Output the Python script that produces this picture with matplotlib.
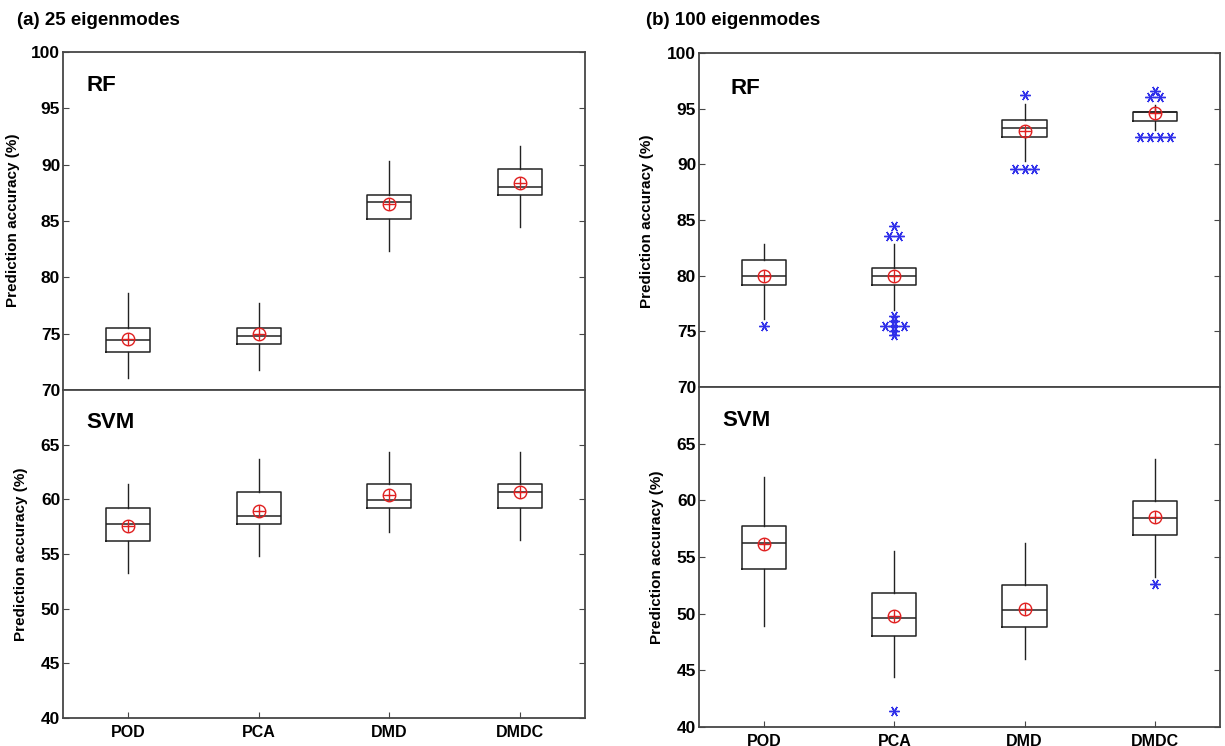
import numpy as np
import matplotlib
matplotlib.use("Agg")
from matplotlib import pyplot as plt

methods = ["POD", "PCA", "DMD", "DMDC"]

# (a) 25 eigenmodes, RF
a_rf_whislo = [71.1, 71.8, 82.3, 84.5]
a_rf_q1 = [73.35, 74.1, 85.15, 87.35]
a_rf_med = [74.45, 74.8, 86.65, 88.05]
a_rf_q3 = [75.5, 75.5, 87.3, 89.6]
a_rf_whishi = [78.6, 77.75, 90.3, 91.7]
a_rf_mean = [74.5, 75.0, 86.5, 88.4]
a_rf_fliers = [[], [], [], []]

# (a) 25 eigenmodes, SVM
a_svm_whislo = [53.3, 54.8, 57.0, 56.25]
a_svm_q1 = [56.2, 57.75, 59.2, 59.2]
a_svm_med = [57.75, 58.45, 59.95, 60.65]
a_svm_q3 = [59.2, 60.65, 61.4, 61.4]
a_svm_whishi = [61.4, 63.65, 64.3, 64.3]
a_svm_mean = [57.55, 58.9, 60.4, 60.7]
a_svm_fliers = [[], [], [], []]

# (b) 100 eigenmodes, RF
b_rf_whislo = [76.15, 76.95, 90.3, 93.1]
b_rf_q1 = [79.2, 79.2, 92.5, 93.9]
b_rf_med = [79.95, 79.95, 93.25, 94.7]
b_rf_q3 = [81.4, 80.65, 93.95, 94.7]
b_rf_whishi = [82.85, 82.85, 95.4, 95.3]
b_rf_mean = [79.95, 80.0, 93.0, 94.6]
b_rf_fliers = [[75.5],
               [84.5, 83.6, 83.6, 76.4, 75.9, 75.5, 75.5, 75.5, 75.0, 74.7],
               [96.25, 89.55, 89.55, 89.55],
               [96.6, 96.05, 96.05, 92.45, 92.45, 92.45, 92.45]]

# (b) 100 eigenmodes, SVM
b_svm_whislo = [48.9, 44.4, 46.0, 53.25]
b_svm_q1 = [53.95, 48.05, 48.8, 56.95]
b_svm_med = [56.25, 49.65, 50.3, 58.45]
b_svm_q3 = [57.75, 51.85, 52.55, 59.95]
b_svm_whishi = [62.05, 55.5, 56.2, 63.6]
b_svm_mean = [56.1, 49.8, 50.45, 58.55]
b_svm_fliers = [[], [41.4], [], [52.6]]

narrow = ["Liberation Sans Narrow", "Liberation Sans", "DejaVu Sans"]
plt.rcParams["font.family"] = ["Liberation Sans", "DejaVu Sans"]
spine_col = "#474747"


def draw_panel(ax, whislo, q1, med, q3, whishi, mean, fliers, label, ylim, yticks, bottom):
    stats = []
    for i in range(len(methods)):
        stats.append(dict(whislo=whislo[i], q1=q1[i], med=med[i], q3=q3[i],
                          whishi=whishi[i], fliers=[], label=methods[i]))
    pos = np.arange(1, len(methods) + 1)
    ax.bxp(stats, positions=pos, widths=0.34, showcaps=False, showfliers=False,
           boxprops=dict(color="#222222", linewidth=1.1),
           whiskerprops=dict(color="#222222", linewidth=1.0),
           medianprops=dict(color="#222222", linewidth=1.1))
    ax.plot(pos, mean, "o", ms=9, mfc="none", mec="#e02020", mew=1.0, zorder=5)
    ax.plot(pos, mean, "+", ms=9, color="#e02020", mew=1.0, zorder=5)
    # outliers, equal values spread sideways
    for p, vals in zip(pos, fliers):
        uniq, counts = np.unique(vals, return_counts=True)
        for v, c in zip(uniq, counts):
            offs = (np.arange(c) - (c - 1) / 2.0) * 0.075
            ax.plot(p + offs, [v] * c, linestyle="none", marker=(6, 2, 30),
                    ms=7.5, color="#3030ea", mew=1.0, zorder=4)
    ax.set_xlim(0.5, 4.5)
    ax.set_ylim(*ylim)
    ax.set_yticks(yticks)
    ax.set_yticklabels([str(t) for t in yticks], family=narrow,
                       fontweight="bold", fontsize=12.5)
    ax.tick_params(axis="y", direction="in", left=True, right=True, length=4,
                   pad=2, color=spine_col)
    if bottom:
        ax.set_xticks(pos)
        ax.set_xticklabels(methods, fontweight="bold", fontsize=11.5)
        ax.tick_params(axis="x", direction="in", length=4, pad=5, color=spine_col)
    else:
        ax.set_xticks([])
    for s in ax.spines.values():
        s.set_color(spine_col)
        s.set_linewidth(1.3)
    ax.set_ylabel("Prediction accuracy (%)", fontweight="bold", fontsize=11)
    ax.text(0.045, 0.9, label, transform=ax.transAxes, fontweight="bold",
            fontsize=16, va="center", ha="left")


fig = plt.figure(figsize=(12.25, 7.46), dpi=100)

ax1 = fig.add_axes([0.0514, 0.4772, 0.4261, 0.4531])
ax2 = fig.add_axes([0.0514, 0.0375, 0.4261, 0.4397])
ax3 = fig.add_axes([0.5706, 0.4812, 0.4253, 0.4477])
ax4 = fig.add_axes([0.5706, 0.0255, 0.4253, 0.4558])

draw_panel(ax1, a_rf_whislo, a_rf_q1, a_rf_med, a_rf_q3, a_rf_whishi, a_rf_mean,
           a_rf_fliers, "RF", (70, 100), [70, 75, 80, 85, 90, 95, 100], False)
draw_panel(ax2, a_svm_whislo, a_svm_q1, a_svm_med, a_svm_q3, a_svm_whishi, a_svm_mean,
           a_svm_fliers, "SVM", (40, 70), [40, 45, 50, 55, 60, 65], True)
draw_panel(ax3, b_rf_whislo, b_rf_q1, b_rf_med, b_rf_q3, b_rf_whishi, b_rf_mean,
           b_rf_fliers, "RF", (70, 100), [70, 75, 80, 85, 90, 95, 100], False)
draw_panel(ax4, b_svm_whislo, b_svm_q1, b_svm_med, b_svm_q3, b_svm_whishi, b_svm_mean,
           b_svm_fliers, "SVM", (40, 70), [40, 45, 50, 55, 60, 65], True)

ax1.yaxis.set_label_coords(-0.082, 0.503)
ax2.yaxis.set_label_coords(-0.067, 0.5)
ax3.yaxis.set_label_coords(-0.086, 0.497)
ax4.yaxis.set_label_coords(-0.067, 0.5)
ax3.texts[0].set_position((0.06, 0.895))

fig.text(0.014, 0.973, "(a) 25 eigenmodes", fontweight="bold", fontsize=13.5, va="center")
fig.text(0.527, 0.973, "(b) 100 eigenmodes", fontweight="bold", fontsize=13.5, va="center")

plt.savefig("out.png", dpi=100)
